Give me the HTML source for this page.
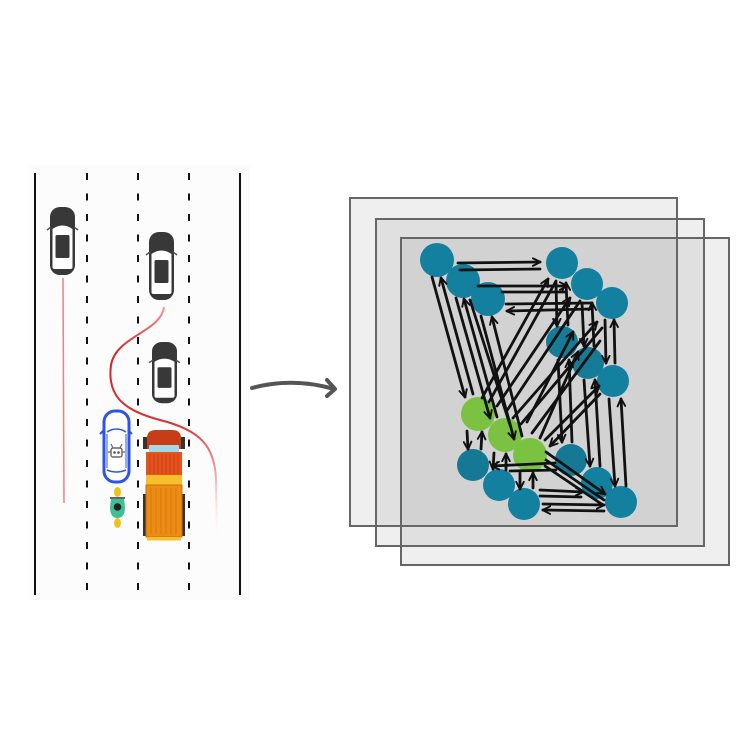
<!DOCTYPE html>
<html><head><meta charset="utf-8"><style>
html,body{margin:0;padding:0;background:#fff;}
svg{display:block;}
</style></head><body>
<svg width="750" height="750" viewBox="0 0 750 750" xmlns="http://www.w3.org/2000/svg">
<defs>
  <marker id="ah" viewBox="0 0 10 10" refX="8.5" refY="5" markerWidth="3.4" markerHeight="3.4" orient="auto-start-reverse" markerUnits="strokeWidth">
    <path d="M1,1 L9,5 L1,9" fill="none" stroke="#111" stroke-width="2" stroke-linecap="round" stroke-linejoin="round"/>
  </marker>
  <linearGradient id="rg" gradientUnits="userSpaceOnUse" x1="0" y1="305" x2="0" y2="540">
    <stop offset="0" stop-color="#f2a0a0"/>
    <stop offset="0.2" stop-color="#d42424"/>
    <stop offset="0.5" stop-color="#d83030"/>
    <stop offset="0.75" stop-color="#f2b8b8"/>
    <stop offset="1" stop-color="#ffffff" stop-opacity="0.2"/>
  </linearGradient>
  <g id="gcar">
    <rect x="0" y="0" width="25" height="68" rx="10" fill="#383838"/>
    <path d="M2.5,22 Q12.5,15 22.5,22 L22.5,60 Q22.5,62 20.5,62 L4.5,62 Q2.5,62 2.5,60 Z" fill="#fff"/>
    <rect x="5.5" y="28" width="14" height="23" rx="1.5" fill="#383838"/>
    <path d="M1,20 L-3,23 M24,20 L28,23" stroke="#555" stroke-width="1.5" fill="none"/>
  </g>
</defs>

<!-- road background -->
<rect x="28" y="165" width="222" height="435" fill="#fcfcfc"/>
<line x1="35" y1="173" x2="35" y2="595" stroke="#111" stroke-width="2"/>
<line x1="240" y1="173" x2="240" y2="595" stroke="#111" stroke-width="2"/>
<g stroke="#111" stroke-width="2" stroke-dasharray="7 13.5">
  <line x1="87" y1="173" x2="87" y2="595"/>
  <line x1="138" y1="173" x2="138" y2="595"/>
  <line x1="189" y1="173" x2="189" y2="595"/>
</g>

<!-- trajectories -->
<line x1="63" y1="278" x2="64" y2="503" stroke="#ee8080" stroke-width="1.5"/>
<path d="M164,307 C161,332 116,336 111,365 C107,395 122,410 160,420 C200,430 215,446 216,480 L217,537" fill="none" stroke="url(#rg)" stroke-width="2"/>

<!-- gray cars -->
<use href="#gcar" x="50" y="207"/>
<use href="#gcar" x="149" y="232"/>
<g transform="translate(152,342) scale(1,0.9)"><use href="#gcar"/></g>

<!-- blue car -->
<g>
  <path d="M104,430 L100,434 M128,430 L132,434" stroke="#2a55e8" stroke-width="2"/>
  <rect x="104" y="411" width="25" height="71" rx="11" fill="#fff" stroke="#2a55e8" stroke-width="3"/>
  <path d="M107,432 Q116.5,426 126,432" stroke="#2a55e8" stroke-width="1.5" fill="none"/>
  <path d="M107,470 Q116.5,474 126,470" stroke="#2a55e8" stroke-width="1.5" fill="none"/>
  <path d="M107,434 L107,468 M126,434 L126,468" stroke="#2a55e8" stroke-width="1" fill="none"/>
  <rect x="111" y="448" width="11" height="9" rx="2" fill="none" stroke="#666" stroke-width="1.4"/>
  <circle cx="114.5" cy="452.5" r="1.3" fill="#555"/>
  <circle cx="118.5" cy="452.5" r="1.3" fill="#555"/>
  <path d="M113,448 L111,444 M120,448 L122,444 M111,452 L108,452 M122,452 L125,452" stroke="#666" stroke-width="1.2"/>
</g>

<!-- motorcycle -->
<g>
  <ellipse cx="117.5" cy="492" rx="3.5" ry="5" fill="#f2c21a"/>
  <ellipse cx="117.5" cy="523" rx="3.5" ry="5" fill="#f2c21a"/>
  <line x1="110" y1="498" x2="125" y2="498" stroke="#333" stroke-width="1.5"/>
  <path d="M111,499 L110,507 Q110,518 117.5,518 Q125,518 125,507 L124,499" fill="#3fbf98"/>
  <ellipse cx="117.5" cy="510" rx="6" ry="7" fill="#3fbf98"/>
  <circle cx="117.5" cy="507" r="3.8" fill="#222"/>
</g>

<!-- truck -->
<g>
  <rect x="143" y="437" width="4" height="12" fill="#333"/>
  <rect x="181" y="437" width="4" height="12" fill="#333"/>
  <rect x="143" y="494" width="4" height="42" fill="#333"/>
  <rect x="181" y="494" width="4" height="42" fill="#333"/>
  <path d="M147,449 L147,438 Q147,430 156,430 L172,430 Q181,430 181,438 L181,449 Z" fill="#c63e18"/>
  <rect x="146" y="452" width="36" height="23" fill="#e5521c"/>
  <g stroke="#c9431a" stroke-width="1">
    <line x1="150" y1="454" x2="150" y2="474"/><line x1="154" y1="454" x2="154" y2="474"/>
    <line x1="158" y1="454" x2="158" y2="474"/><line x1="162" y1="454" x2="162" y2="474"/>
    <line x1="166" y1="454" x2="166" y2="474"/><line x1="170" y1="454" x2="170" y2="474"/>
    <line x1="174" y1="454" x2="174" y2="474"/><line x1="178" y1="454" x2="178" y2="474"/>
  </g>
  <rect x="149" y="445" width="30" height="7" rx="1" fill="#a3d8e8"/>
  <rect x="146" y="475" width="36" height="10" fill="#f6c02c"/>
  <rect x="146" y="485" width="36" height="52" fill="#ec8c14" stroke="#c96e08" stroke-width="1"/>
  <g stroke="#d87a0c" stroke-width="1">
    <line x1="151" y1="488" x2="151" y2="534"/><line x1="156" y1="488" x2="156" y2="534"/>
    <line x1="161" y1="488" x2="161" y2="534"/><line x1="166" y1="488" x2="166" y2="534"/>
    <line x1="171" y1="488" x2="171" y2="534"/><line x1="176" y1="488" x2="176" y2="534"/>
  </g>
  <rect x="147" y="537" width="34" height="3.5" fill="#f3c030"/>
</g>

<!-- arrow -->
<path d="M252,388 Q292,377 334,389" fill="none" stroke="#555" stroke-width="4" stroke-linecap="round"/>
<path d="M327,380 L335,389 L327,396" fill="none" stroke="#555" stroke-width="4" stroke-linecap="round" stroke-linejoin="round"/>

<!-- frames -->
<g fill="rgba(0,0,0,0.063)">
  <rect x="350" y="198" width="327" height="328"/>
  <rect x="376" y="219" width="328" height="327"/>
  <rect x="401" y="238" width="328" height="327"/>
</g>
<g fill="none" stroke="#666" stroke-width="2">
  <rect x="350" y="198" width="327" height="328"/>
  <rect x="376" y="219" width="328" height="327"/>
  <rect x="401" y="238" width="328" height="327"/>
</g>

<!-- nodes -->
<g fill="#13809f">
  <circle cx="437" cy="260" r="17"/>
  <circle cx="463" cy="281" r="17"/>
  <circle cx="488" cy="299" r="17"/>
  <circle cx="562" cy="263" r="16"/>
  <circle cx="587" cy="284" r="16"/>
  <circle cx="612" cy="303" r="16"/>
  <circle cx="562" cy="342" r="16" fill="#167b96"/>
  <circle cx="588" cy="363" r="16" fill="#167b96"/>
  <circle cx="613" cy="381" r="16"/>
  <circle cx="473" cy="465" r="16" fill="#157995"/>
  <circle cx="499" cy="485" r="16"/>
  <circle cx="524" cy="504" r="16"/>
  <circle cx="571" cy="460" r="16" fill="#157995"/>
  <circle cx="597" cy="483" r="16"/>
  <circle cx="621" cy="502" r="16"/>
</g>
<g fill="#7cc242">
  <circle cx="478" cy="414" r="17"/>
  <circle cx="505" cy="435" r="17"/>
  <circle cx="530" cy="455" r="17"/>
</g>

<!-- edges -->
<g fill="none" stroke="#111" stroke-width="2.8" stroke-linecap="round">
  <!-- top horizontals -->
  <path d="M458,263 L540,262" marker-end="url(#ah)"/>
  <path d="M540,269 L460,270"/>
  <path d="M478,286 L567,286" marker-end="url(#ah)"/>
  <path d="M502,292 L566,292"/>
  <path d="M592,303 L506,304"/>
  <path d="M590,309 L507,311" marker-end="url(#ah)"/>
  <!-- A -> G -->
  <path d="M432,277 L465,397" marker-end="url(#ah)"/>
  <path d="M473,394 L441,278" marker-end="url(#ah)"/>
  <path d="M456,298 L490,418" marker-end="url(#ah)"/>
  <path d="M497,417 L464,299" marker-end="url(#ah)"/>
  <path d="M481,316 L514,439" marker-end="url(#ah)"/>
  <path d="M522,436 L492,317" marker-end="url(#ah)"/>
  <path d="M470,300 L510,425"/>
  <!-- G -> B / C -->
  <path d="M482,398 L548,279" marker-end="url(#ah)"/>
  <path d="M489,402 L556,281"/>
  <path d="M497,406 L570,298" marker-end="url(#ah)"/>
  <path d="M506,412 L580,301"/>
  <path d="M513,418 L597,322" marker-end="url(#ah)"/>
  <path d="M521,424 L602,328"/>
  <path d="M527,422 L573,332" marker-end="url(#ah)"/>
  <path d="M532,433 L600,341"/>
  <path d="M540,438 L578,352" marker-end="url(#ah)"/>
  <path d="M545,440 L599,386" marker-end="url(#ah)"/>
  <path d="M600,394 L550,446" marker-end="url(#ah)"/>
  <!-- verticals -->
  <path d="M556,283 L557,326" marker-end="url(#ah)"/>
  <path d="M568,325 L566,283" marker-end="url(#ah)"/>
  <path d="M558,360 L562,442" marker-end="url(#ah)"/>
  <path d="M572,442 L569,360" marker-end="url(#ah)"/>
  <path d="M582,303 L584,346" marker-end="url(#ah)"/>
  <path d="M594,346 L592,303" marker-end="url(#ah)"/>
  <path d="M584,380 L590,466" marker-end="url(#ah)"/>
  <path d="M600,466 L595,380" marker-end="url(#ah)"/>
  <path d="M605,320 L606,363" marker-end="url(#ah)"/>
  <path d="M615,363 L614,320" marker-end="url(#ah)"/>
  <path d="M609,399 L615,486" marker-end="url(#ah)"/>
  <path d="M626,486 L621,399" marker-end="url(#ah)"/>
  <!-- bottom -->
  <path d="M555,463 L492,466" marker-end="url(#ah)"/>
  <path d="M556,470 L510,471"/>
  <path d="M540,490 L583,492" marker-end="url(#ah)"/>
  <path d="M540,496 L581,497"/>
  <path d="M543,504 L604,505" marker-end="url(#ah)"/>
  <path d="M604,511 L543,510" marker-end="url(#ah)"/>
  <path d="M546,452 L605,494" marker-end="url(#ah)"/>
  <path d="M546,460 L604,500"/>
  <path d="M545,466 L600,503"/>
  <!-- G <-> D -->
  <path d="M467,431 L468,449" marker-end="url(#ah)"/>
  <path d="M481,449 L482,432" marker-end="url(#ah)"/>
  <path d="M494,453 L493,469" marker-end="url(#ah)"/>
  <path d="M506,470 L506,454" marker-end="url(#ah)"/>
  <path d="M520,473 L520,489" marker-end="url(#ah)"/>
  <path d="M533,488 L533,473" marker-end="url(#ah)"/>
</g>
</svg>
</body></html>
